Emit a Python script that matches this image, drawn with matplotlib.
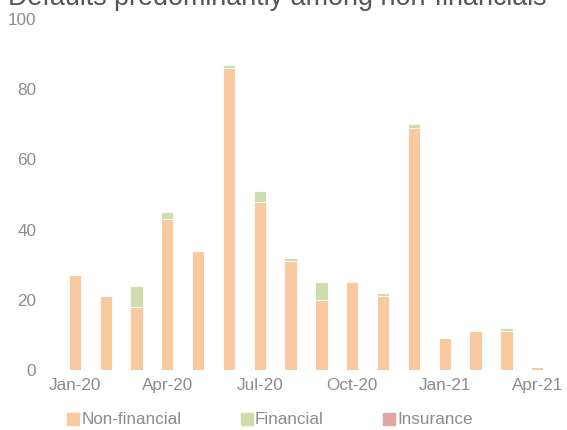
import matplotlib
matplotlib.use("Agg")
import matplotlib.pyplot as plt
import numpy as np

plt.rcParams['font.family'] = ['Liberation Sans', 'DejaVu Sans']

months = ["Jan-20", "Feb-20", "Mar-20", "Apr-20", "May-20", "Jun-20", "Jul-20", "Aug-20",
          "Sep-20", "Oct-20", "Nov-20", "Dec-20", "Jan-21", "Feb-21", "Mar-21", "Apr-21"]
non_financial = [27, 21, 18, 43, 34, 86, 48, 31, 20, 25, 21, 69, 9, 11, 11, 1]
financial = [0, 0, 6, 2, 0, 1, 3, 1, 5, 0, 1, 1, 0, 0, 1, 0]
insurance = [0] * 16
tick_labels = ["Jan-20", "Apr-20", "Jul-20", "Oct-20", "Jan-21", "Apr-21"]
title = "Defaults predominantly among non-financials"

c_nf = "#F9C9A0"
c_fin = "#CFDDAC"
c_ins = "#DFA7A6"
gray = "#8C8C8C"

fig = plt.figure(figsize=(5.67, 4.30), dpi=100)
ax = fig.add_axes([0.1005, 0.1395, 0.8785, 0.8163])

x = np.arange(len(months))
nf = np.array(non_financial)
fi = np.array(financial)
ins = np.array(insurance)
w = 0.4
ax.bar(x, nf, w, color=c_nf, edgecolor="white", linewidth=0.6, label="Non-financial")
ax.bar(x, fi, w, bottom=nf, color=c_fin, edgecolor="white", linewidth=0.6, label="Financial")
ax.bar(x, ins, w, bottom=nf + fi, color=c_ins, edgecolor="white", linewidth=0.0, label="Insurance")

ax.set_xlim(-0.58, 15.58)
ax.set_ylim(0, 100)
ax.set_yticks([0, 20, 40, 60, 80, 100])
ax.set_xticks([months.index(t) for t in tick_labels])
ax.set_xticklabels(tick_labels)
ax.tick_params(axis='both', length=0, colors=gray, labelsize=12.3)
ax.tick_params(axis='y', pad=15)
ax.tick_params(axis='x', pad=6)
for s in ax.spines.values():
    s.set_visible(False)

fig.text(0.014, 1 - 5/430, title, fontsize=19.4, color="#555555", va='baseline', ha='left')

from matplotlib.lines import Line2D
handles = [Line2D([], [], marker='s', linestyle='none', markersize=8, color=c) for c in (c_nf, c_fin, c_ins)]
fig.legend(handles, ["Non-financial", "Financial", "Insurance"], loc='center',
           bbox_to_anchor=(0.474, 1 - 420/430), ncol=3, frameon=False, fontsize=12.3,
           labelcolor=gray, handletextpad=0.0, columnspacing=3.3, handlelength=1.0)

fig.savefig("out.png", dpi=100)
